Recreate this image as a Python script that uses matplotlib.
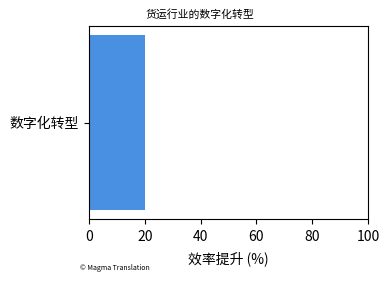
import matplotlib
matplotlib.use("Agg")
import matplotlib.pyplot as plt

plt.rcParams['font.family'] = ['Noto Sans CJK SC', 'DejaVu Sans']

categories = ["数字化转型"]
values = [20]
x_ticks = [0, 20, 40, 60, 80, 100]

fig = plt.figure(figsize=(3.9, 2.81), dpi=100)
ax = fig.add_axes([0.228, 0.221, 0.716, 0.686])
ax.barh(categories, values, color="#4A90E2", height=0.8)
ax.set_xlim(0, 100)
ax.set_xticks(x_ticks)
ax.tick_params(axis='both', labelsize=10)
ax.tick_params(axis='x', pad=4.5)
ax.set_xlabel("效率提升 (%)", fontsize=10, labelpad=5)
fig.text(0.513, 0.947, "货运行业的数字化转型", fontsize=7.8, ha='center', va='center')
fig.text(0.205, 0.048, "© Magma Translation", fontsize=5, ha='left', va='center')
fig.savefig("out.png", dpi=100)
